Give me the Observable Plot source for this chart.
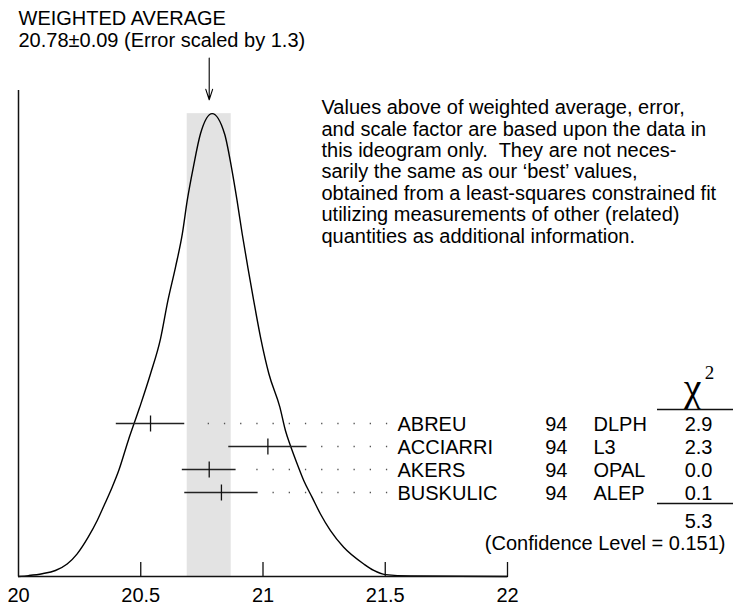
<!DOCTYPE html>
<html><head><meta charset="utf-8">
<script src="https://cdn.jsdelivr.net/npm/d3@7"></script>
<script src="https://cdn.jsdelivr.net/npm/@observablehq/plot@0.6"></script>
<style>
body{margin:0;background:#fff;}
#wrap{position:relative;width:733px;height:605px;}
#wrap svg{position:absolute;left:0;top:0;}
</style></head><body><div id="wrap"></div>
<script>
// ---- data ----
const names = ["ABREU", "ACCIARRI", "AKERS", "BUSKULIC"];
const years = ["94", "94", "94", "94"];
const experiments = ["DLPH", "L3", "OPAL", "ALEP"];
const values = [20.54, 21.02, 20.78, 20.83];
const errors = [0.14, 0.16, 0.11, 0.15];
const chi2 = [2.9, 2.3, 0.0, 0.1];
const average = 20.78;
const averageError = 0.09;
const scaleFactor = 1.3;
const confidenceLevel = 0.151;
const xTicks = [20, 20.5, 21, 21.5, 22];
// ideogram curve (x value, relative height with peak = 1)
const curveX = [20.00, 20.042, 20.097, 20.151, 20.199, 20.240, 20.285, 20.322, 20.353, 20.383, 20.410, 20.449, 20.496, 20.540, 20.581, 20.611, 20.642, 20.670, 20.690, 20.715, 20.744, 20.792, 20.843, 20.871, 20.894, 20.915, 20.938, 20.962, 20.991, 21.024, 21.069, 21.092, 21.112, 21.140, 21.167, 21.201, 21.235, 21.276, 21.330, 21.412, 21.453, 21.501, 21.603, 22.00];
const curveY = [0, 0.002, 0.006, 0.013, 0.027, 0.049, 0.085, 0.121, 0.157, 0.193, 0.229, 0.294, 0.366, 0.438, 0.514, 0.596, 0.668, 0.740, 0.812, 0.884, 0.956, 1.000, 0.956, 0.884, 0.812, 0.740, 0.668, 0.596, 0.514, 0.438, 0.366, 0.315, 0.283, 0.243, 0.207, 0.171, 0.135, 0.099, 0.063, 0.027, 0.013, 0.004, 0.001, 0];
const headerLines = ["WEIGHTED AVERAGE", `${average.toFixed(2)}±${averageError.toFixed(2)} (Error scaled by ${scaleFactor})`];
const noteLines = [
  "Values above of weighted average, error,",
  "and scale factor are based upon the data in",
  "this ideogram only.  They are not neces-",
  "sarily the same as our ‘best’ values,",
  "obtained from a least-squares constrained fit",
  "utilizing measurements of other (related)",
  "quantities as additional information."
];

// ---- layout ----
const W = 733, H = 605, mL = 18, mR = 226, mT = 90, mB = 29;
const FS = 20;
const FONT = "'Liberation Sans', Arial, Helvetica, sans-serif";
const SERIF = "'Liberation Serif', 'Times New Roman', serif";
const frameH = H - mT - mB;

const curve = curveX.map((x, i) => ({x, y: curveY[i]}));
const peak = d3.max(curveY);
const rows = names.map((name, i) => ({name, year: years[i], exp: experiments[i], value: values[i], error: errors[i], chi2: chi2[i]}));
const chi2Total = d3.sum(chi2);

// vertical bar symbol for the central value of each measurement
const vbar = {draw(context) { context.moveTo(0, -8); context.lineTo(0, 8); }};

const common = {
  width: W, height: H, marginLeft: mL, marginRight: mR, marginTop: mT, marginBottom: mB,
  style: {background: "transparent", overflow: "visible", fontFamily: FONT, fontSize: FS + "px", color: "#000"}
};

const main = Plot.plot({
  ...common,
  x: {domain: [20, 22], axis: null},
  y: {domain: [0, 1.05], axis: null},
  marks: [
    Plot.rect([average], {x1: d => d - averageError, x2: d => d + averageError, y1: 0, y2: peak, fill: "#e3e3e3"}),
    Plot.line(curve, {x: "x", y: "y", curve: "monotone-x", stroke: "#000", strokeWidth: 1.4}),
    Plot.ruleX([xTicks[0]], {stroke: "#111", strokeWidth: 1.5}),
    Plot.ruleY([0], {stroke: "#111", strokeWidth: 1.5}),
    Plot.tickX(xTicks.slice(1), {x: d => d, insetTop: frameH - 14, stroke: "#111", strokeWidth: 1.3}),
    Plot.text(xTicks, {x: d => d, text: d => String(d), frameAnchor: "bottom", lineAnchor: "bottom", dy: 25, fontSize: FS, fontFamily: FONT, fill: "#000"}),
    Plot.arrow([average], {x1: d => d, x2: d => d, y1: 1.12, y2: 1.03, headLength: 15, headAngle: 36, stroke: "#000", strokeWidth: 1.1}),
    Plot.text([headerLines.join("\n")], {frameAnchor: "top-left", textAnchor: "start", lineAnchor: "bottom", dy: -44, lineHeight: 1.1, fontSize: FS, fontFamily: FONT, fill: "#000"}),
    Plot.text([noteLines.join("\n")], {frameAnchor: "top-left", textAnchor: "start", lineAnchor: "bottom", dx: 303, dy: 152, lineHeight: 1.07, fontSize: FS, fontFamily: FONT, fill: "#000"})
  ]
});

const overlay = Plot.plot({
  ...common,
  x: {domain: [20, 22], axis: null},
  y: {type: "point", domain: names, range: [422, 493], padding: 0, axis: null},
  marks: [
    Plot.ruleY(rows, {y: "name", x1: 21.51, x2: d => d.value + d.error + 0.05, stroke: "#555", strokeWidth: 1.3, strokeDasharray: "1.3 14.9"}),
    Plot.ruleY(rows, {y: "name", x1: d => d.value - d.error, x2: d => d.value + d.error, stroke: "#222", strokeWidth: 1.3}),
    Plot.dot(rows, {x: "value", y: "name", symbol: vbar, fill: "none", stroke: "#111", strokeWidth: 1.3}),
    Plot.text(rows, {y: "name", text: "name", frameAnchor: "left", dx: 379, dy: 1, textAnchor: "start", fontSize: FS, fontFamily: FONT, fill: "#000"}),
    Plot.text(rows, {y: "name", text: "year", frameAnchor: "left", dx: 549, dy: 1, textAnchor: "end", fontSize: FS, fontFamily: FONT, fill: "#000"}),
    Plot.text(rows, {y: "name", text: "exp", frameAnchor: "left", dx: 575, dy: 1, textAnchor: "start", fontSize: FS, fontFamily: FONT, fill: "#000"}),
    Plot.text(rows, {y: "name", text: d => d.chi2.toFixed(1), frameAnchor: "left", dx: 694, dy: 1, textAnchor: "end", fontSize: FS, fontFamily: FONT, fill: "#000"}),
    Plot.text([names[0]], {y: d => d, text: ["χ"], frameAnchor: "left", dx: 674, dy: -23, lineAnchor: "bottom", textAnchor: "middle", fontSize: 40, fontFamily: SERIF, fill: "#000"}),
    Plot.text([names[0]], {y: d => d, text: ["2"], frameAnchor: "left", dx: 691, dy: -45, lineAnchor: "bottom", textAnchor: "middle", fontSize: 19, fontFamily: SERIF, fill: "#000"}),
    Plot.ruleY([names[0]], {y: d => d, dy: -14, insetLeft: 639, insetRight: -226, stroke: "#111", strokeWidth: 1.3}),
    Plot.ruleY([names[names.length - 1]], {y: d => d, dy: 11, insetLeft: 639, insetRight: -226, stroke: "#111", strokeWidth: 1.3}),
    Plot.text([names[names.length - 1]], {y: d => d, text: [chi2Total.toFixed(1)], frameAnchor: "left", dx: 694, dy: 28.6, textAnchor: "end", fontSize: FS, fontFamily: FONT, fill: "#000"}),
    Plot.text([names[names.length - 1]], {y: d => d, text: [`(Confidence Level = ${confidenceLevel})`], frameAnchor: "left", dx: 707, dy: 50.6, textAnchor: "end", fontSize: FS, fontFamily: FONT, fill: "#000"})
  ]
});

const wrap = document.getElementById("wrap");
wrap.appendChild(main);
wrap.appendChild(overlay);
</script>
</body></html>
